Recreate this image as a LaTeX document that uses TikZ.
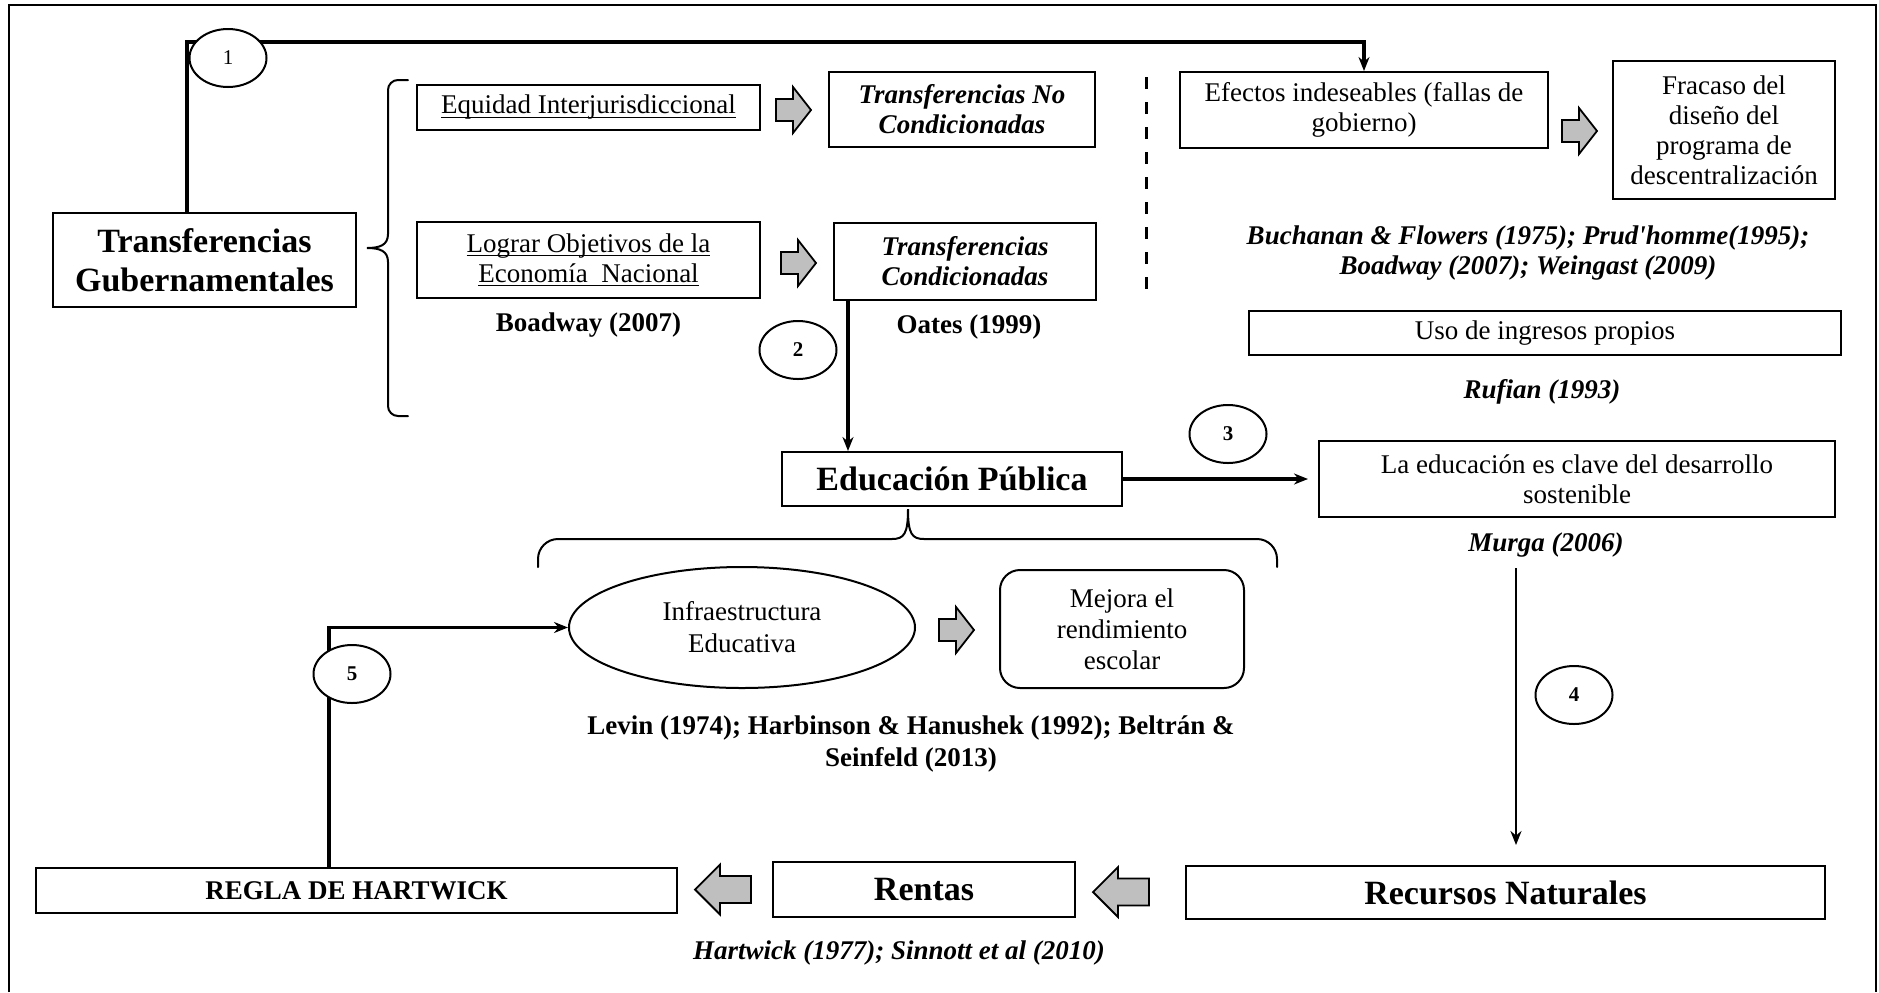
\documentclass[tikz,border=0pt]{standalone}
\usepackage{fontspec}
\setmainfont{Liberation Serif}
\usetikzlibrary{arrows.meta,calc,positioning,shapes.geometric}
\definecolor{arrowgray}{RGB}{191,191,191}
\newcommand{\ultext}[1]{\setbox0\hbox{#1}\rlap{\rule[-2pt]{\wd0}{0.6pt}}\box0}

\tikzset{
  rblock/.pic = {\draw[fill=arrowgray, line width=0.9pt] (-17,-11) -- (0,-11) -- (0,-23) -- (18,0) -- (0,23) -- (0,11) -- (-17,11) -- cycle;},
  lblock/.pic = {\draw[fill=arrowgray, line width=0.9pt] (31,-13.5) -- (0,-13.5) -- (0,-25) -- (-25,0) -- (0,25) -- (0,13.5) -- (31,13.5) -- cycle;}
}

\begin{document}
\begin{tikzpicture}[
  x=0.5pt, y=-0.5pt,
  > = {Stealth[length=7pt,width=5.5pt]},
  box/.style = {draw, line width=1pt, align=center, inner sep=0pt, font=\fontsize{13.5}{15}\selectfont},
  itbox/.style = {box, font=\bfseries\itshape\fontsize{13.5}{15}\selectfont},
  bigbox/.style = {box, font=\bfseries\fontsize{17}{19.5}\selectfont},
  ref/.style = {align=center, inner sep=0pt, font=\bfseries\fontsize{13.5}{16}\selectfont},
  refit/.style = {ref, font=\bfseries\itshape\fontsize{13.5}{15}\selectfont},
  num/.style = {draw, ellipse, fill=white, line width=1pt, minimum width=38.5pt, minimum height=29pt, inner sep=0pt, font=\bfseries\fontsize{10.5}{12}\selectfont},
  conn/.style = {line width=1.6pt},
  brc/.style = {line width=1pt, line cap=round}
  ]
	\useasboundingbox (0,0) rectangle (1879,992);
	\draw[line width=0.8pt] (9,992) |- (1876,5) -- (1876,992);

	\coordinate (@k1) at (187,42);
	\coordinate (@k2) at (848,0);
	\coordinate (@k4) at (1516,568);
	\coordinate (@k5) at (329,626);

	% braces and divider
	\draw[brc, rounded corners=5pt] (408,80) -- (388,80) -- (388,234);
	\draw[brc] (388,234) .. controls (388,245) and (380,248) .. (367,248) .. controls (380,248) and (388,251) .. (388,262);
	\draw[brc, rounded corners=5pt] (388,262) -- (388,416) -- (408,416);
	\draw[brc, rounded corners=10pt] (538,567) -- (538,539) -- (892,539);
	\draw[brc] (892,539) .. controls (904,539) and (908,534) .. (908,509) .. controls (908,534) and (912,539) .. (924,539);
	\draw[brc, rounded corners=10pt] (924,539) -- (1277,539) -- (1277,567);
	\draw[line width=1.5pt, dash pattern=on 6pt off 6.5pt] (1146,77) -- (1146,302);

	% boxes
	\node[bigbox, minimum width=151.5pt, minimum height=47pt] (tg) at (204.5,260) {Transferencias\\Gubernamentales};
	\node[box, minimum width=171.5pt, minimum height=22.5pt] (equidad) at (588.5,107.5) {\ultext{Equidad Interjurisdiccional}};
	\node[box, minimum width=171.5pt, minimum height=38pt] (lograr) at (588.5,260) {\ultext{Lograr Objetivos de la}\\\ultext{Economía\ \ Nacional}};
	\node[itbox, minimum width=133pt, minimum height=37.5pt] (tnc) at (962,109.5) {Transferencias No\\Condicionadas};
	\node[itbox, minimum width=131pt, minimum height=38.5pt] (tc) at (965,261.5) {Transferencias\\Condicionadas};
	\node[box, minimum width=184pt, minimum height=38pt] (efectos) at (1364,110) {Efectos indeseables (fallas de\\gobierno)};
	\node[box, minimum width=111pt, minimum height=69pt] (fracaso) at (1724,130) {Fracaso del\\diseño del\\programa de\\descentralización};
	\node[box, minimum width=296pt, minimum height=22pt] (uso) at (1545,333) {Uso de ingresos propios};
	\node[bigbox, minimum width=170pt, minimum height=27pt] (ep) at (952,479) {Educación Pública};
	\node[box, minimum width=258pt, minimum height=38pt] (clave) at (1577,479) {La educación es clave del desarrollo\\sostenible};
	\node[box, ellipse, minimum width=173pt, minimum height=60.5pt, font=\fontsize{13.5}{16}\selectfont] (infra) at (742,627.5) {Infraestructura\\Educativa};
	\node[box, rounded corners=10pt, minimum width=122pt, minimum height=59pt, font=\fontsize{13.5}{15.5}\selectfont] (mejora) at (1122,629) {Mejora el\\rendimiento\\escolar};
	\node[bigbox, minimum width=319.5pt, minimum height=26.5pt] (recursos) at (1505.5,892.5) {Recursos Naturales};
	\node[bigbox, minimum width=151pt, minimum height=27.5pt] (rentas) at (924,889.5) {Rentas};
	\node[box, font=\bfseries\fontsize{13.5}{15}\selectfont, minimum width=320.5pt, minimum height=22.5pt] (regla) at (356.5,890.5) {REGLA DE HARTWICK};

	% references
	\node[ref] (boadway) at (588.5,325) {Boadway (2007)};
	\node[ref] (oates) at (969,327) {Oates (1999)};
	\node[refit] (buchanan) at (1528,253) {Buchanan \& Flowers (1975); Prud\textquotesingle homme(1995);\\Boadway (2007); Weingast (2009)};
	\node[refit] (rufian) at (1542,392) {Rufian (1993)};
	\node[refit] (murga) at (1546,545) {Murga (2006)};
	\node[ref] (levin) at (911,744) {Levin (1974); Harbinson \& Hanushek (1992); Beltrán \&\\Seinfeld (2013)};
	\node[refit] (hartwick) at (899,953) {Hartwick (1977); Sinnott et al (2010)};

	% block arrows
	\pic (ba1) at (793,110) {rblock};
	\pic (ba2) at (798,263) {rblock};
	\pic (ba3) at (1579,131) {rblock};
	\pic (ba4) at (956,630) {rblock};
	\pic (ba5) at (1118,892) {lblock};
	\pic (ba6) at (720,889.5) {lblock};

	% connectors
	\draw[conn,->] (tg.north -| @k1) -- (@k1) -| (efectos.north);
	\draw[conn,->] (tc.south -| @k2) -- (ep.north -| @k2);
	\draw[conn,->,shorten >=5pt] (ep.east) -- (clave.west);
	\draw[conn,->,line width=1.3pt,shorten >=10pt] (@k4) -- (recursos.north -| @k4);
	\draw[conn,->] (regla.north -| @k5) |- (infra.west);

	% numbered steps
	\node[num, font=\fontsize{10.5}{12}\selectfont] (n1) at (228,58) {1};
	\node[num] (n2) at (798,350) {2};
	\node[num] (n3) at (1228,434) {3};
	\node[num] (n4) at (1574,695) {4};
	\node[num] (n5) at (352,674) {5};

\end{tikzpicture}
\end{document}
